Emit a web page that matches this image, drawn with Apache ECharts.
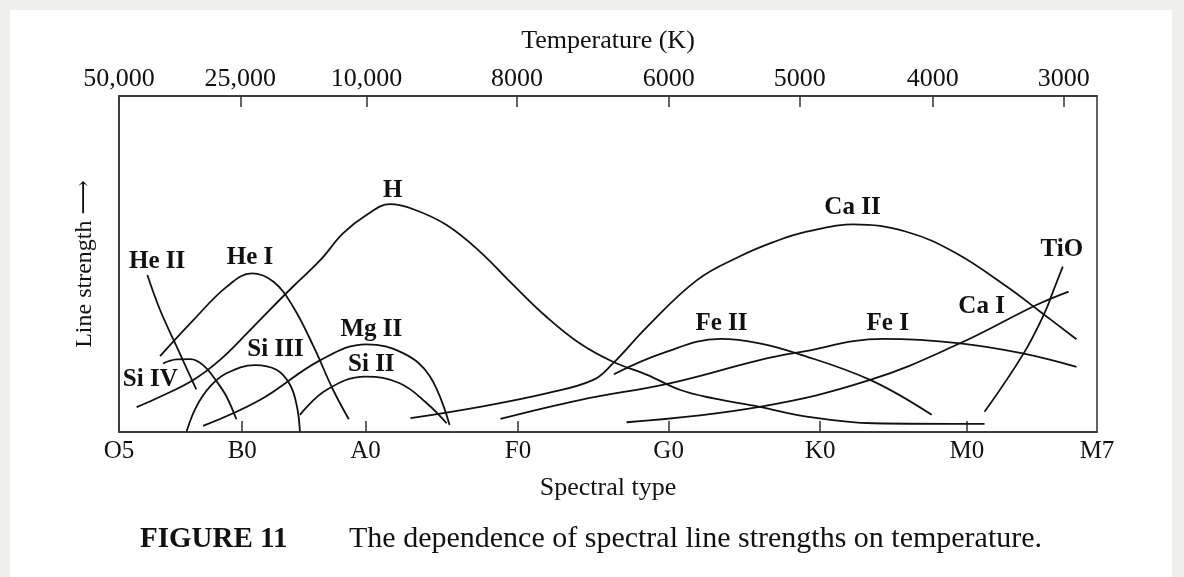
<!DOCTYPE html>
<html>
<head>
<meta charset="utf-8">
<script src="https://cdn.jsdelivr.net/npm/echarts@6/dist/echarts.min.js"></script>
<style>
  html, body { margin: 0; padding: 0; background: #eeeeea; }
  .sheet { position: absolute; left: 10px; top: 10px; width: 1162px; height: 567px; background: #fff; }
  #chart { position: absolute; left: 0; top: 0; width: 1184px; height: 577px; }
</style>
</head>
<body>
<div class="sheet"></div>
<div id="chart"></div>
<script>
// horizontal position runs 0 (O5) .. 100 (M7)
var spectralTypes = ['O5', 'B0', 'A0', 'F0', 'G0', 'K0', 'M0', 'M7'];
var spectralPos = [0, 12.6, 25.2, 40.8, 56.2, 71.7, 86.7, 100];
var tempLabels = ['50,000', '25,000', '10,000', '8000', '6000', '5000', '4000', '3000'];
var tempPos = [0, 12.4, 25.3, 40.7, 56.2, 69.6, 83.2, 96.6];

// line strength curves, [position, strength]
var heII = [[2.9, 46.7], [4.2, 36.3], [5.9, 25.4], [7.9, 12.7]];
var heI = [[4.2, 22.6], [7.6, 33.3], [11.0, 43.2], [13.6, 47.2], [15.8, 44.7], [17.8, 37.3], [19.9, 25.4], [21.9, 12.5], [23.5, 3.8]];
var hyd = [[1.8, 7.4], [4.2, 10.5], [7.6, 15.5], [10.3, 21.4], [13.1, 29.4], [15.4, 36.3], [17.8, 43.3], [20.6, 51.2],
           [22.9, 59.1], [25.3, 64.6], [27.7, 67.8], [30.1, 66.3], [33.5, 61.6], [36.9, 53.7], [40.3, 43.8], [43.7, 34.3],
           [47.1, 26.4], [50.5, 20.9], [54.0, 17.0], [57.4, 12.5], [60.8, 10.0], [65.5, 7.5], [70.3, 4.6], [77.1, 2.6], [88.5, 2.4]];
var siIV = [[4.5, 20.4], [5.9, 21.6], [7.3, 21.7], [8.6, 19.9], [10.0, 15.0], [11.0, 10.5], [12.0, 3.8]];
var siIII = [[6.9, 0.1], [7.9, 7.5], [9.3, 13.5], [11.0, 17.5], [13.9, 19.9], [16.1, 18.5], [17.5, 14.0], [18.2, 7.5], [18.5, 0.1]];
var mgII = [[8.6, 1.8], [14.4, 9.5], [20.6, 21.4], [25.3, 26.1], [29.1, 23.4], [31.8, 16.5], [33.8, 2.1]];
var siII = [[18.5, 5.1], [21.2, 12.5], [25.2, 16.5], [28.7, 14.5], [31.5, 8.5], [33.5, 2.6]];
var caII = [[29.8, 4.1], [36.9, 7.5], [43.7, 11.5], [48.5, 15.5], [50.5, 20.4], [54.0, 31.3], [59.1, 45.2], [63.5, 52.3],
            [66.9, 56.5], [70.3, 59.6], [75.1, 61.8], [80.5, 59.6], [85.6, 53.2], [90.8, 43.2], [94.2, 35.8], [97.9, 27.6]];
var feII = [[50.6, 17.2], [55.6, 23.5], [61.5, 27.7], [65.5, 26.4], [69.3, 23.4], [76.8, 15.5], [83.1, 5.1]];
var feI = [[39.0, 3.9], [47.1, 9.5], [56.3, 14.5], [65.5, 21.4], [69.3, 23.6], [78.2, 27.7], [86.0, 26.4], [92.4, 23.4], [97.9, 19.4]];
var caI = [[51.9, 2.9], [65.5, 7.5], [76.8, 15.5], [86.0, 26.4], [93.8, 37.8], [97.1, 41.8]];
var tiO = [[88.5, 6.0], [92.5, 23.4], [94.7, 35.8], [95.5, 41.8], [96.5, 49.2]];

var lineNames = ['He II', 'He I', 'H', 'Si IV', 'Si III', 'Mg II', 'Si II', 'Ca II', 'Fe II', 'Fe I', 'Ca I', 'TiO'];
var lineData = [heII, heI, hyd, siIV, siIII, mgII, siII, caII, feII, feI, caI, tiO];
var labelX = [3.9, 13.4, 28.0, 3.2, 16.0, 25.8, 25.8, 75.0, 61.6, 78.6, 88.2, 96.4];
var labelY = [50.6, 51.8, 72.0, 15.5, 24.4, 30.4, 20.2, 66.7, 32.4, 32.4, 37.3, 54.2];

var serif = '"Liberation Serif", "DejaVu Serif", serif';
var chart = echarts.init(document.getElementById('chart'));

var series = lineData.map(function (d, i) {
    return {
        name: lineNames[i],
        type: 'line',
        data: d,
        smooth: 0.4,
        symbol: 'none',
        silent: true,
        lineStyle: { color: '#111', width: 1.8 }
    };
});
series.push({
    type: 'scatter',
    symbolSize: 0,
    silent: true,
    itemStyle: { opacity: 1 },
    data: lineNames.map(function (n, i) { return { name: n, value: [labelX[i], labelY[i]] }; }),
    label: {
        show: true,
        position: 'inside',
        formatter: '{b}',
        fontFamily: serif,
        fontSize: 25,
        fontWeight: 'bold',
        color: '#111',
        textBorderWidth: 0
    }
});

chart.setOption({
    animation: false,
    title: [
        { text: 'FIGURE 11', left: 135, top: 520, textStyle: { fontFamily: serif, fontSize: 29, fontWeight: 'bold', color: '#111' } },
        { text: 'The dependence of spectral line strengths on temperature.', left: 344, top: 519, textStyle: { fontFamily: serif, fontSize: 30, fontWeight: 'normal', color: '#111' } }
    ],
    grid: {
        left: 119, right: 87, top: 96, bottom: 145,
        show: true, borderColor: '#333', borderWidth: 1.5
    },
    xAxis: [
        {
            type: 'value', position: 'bottom', min: 0, max: 100,
            name: 'Spectral type', nameLocation: 'middle', nameGap: 43,
            nameTextStyle: { fontFamily: serif, fontSize: 26, color: '#111' },
            axisLine: { show: true, lineStyle: { color: '#333', width: 1.5 } },
            axisTick: { show: true, inside: true, length: 11, customValues: spectralPos.slice(1, 7), lineStyle: { color: '#333', width: 1.5 } },
            axisLabel: {
                customValues: spectralPos, margin: 7,
                fontFamily: serif, fontSize: 25, color: '#111',
                formatter: function (v) { return spectralTypes[spectralPos.indexOf(v)]; }
            },
            splitLine: { show: false }
        },
        {
            type: 'value', position: 'top', min: 0, max: 100,
            name: 'Temperature (K)', nameLocation: 'middle', nameGap: 42,
            nameTextStyle: { fontFamily: serif, fontSize: 26, color: '#111' },
            axisLine: { show: true, lineStyle: { color: '#333', width: 1.5 } },
            axisTick: { show: true, inside: true, length: 11, customValues: tempPos.slice(1), lineStyle: { color: '#333', width: 1.5 } },
            axisLabel: {
                customValues: tempPos, margin: 4,
                fontFamily: serif, fontSize: 26, color: '#111',
                formatter: function (v) { return tempLabels[tempPos.indexOf(v)]; }
            },
            splitLine: { show: false }
        }
    ],
    yAxis: {
        type: 'value', min: 0, max: 100,
        name: 'Line strength \u27F6', nameLocation: 'middle', nameRotate: 90, nameGap: 22,
        nameTextStyle: { fontFamily: serif, fontSize: 24, color: '#111' },
        axisLine: { show: true, lineStyle: { color: '#333', width: 1.5 } },
        axisTick: { show: false },
        axisLabel: { show: false },
        splitLine: { show: false }
    },
    series: series
});
</script>
</body>
</html>
